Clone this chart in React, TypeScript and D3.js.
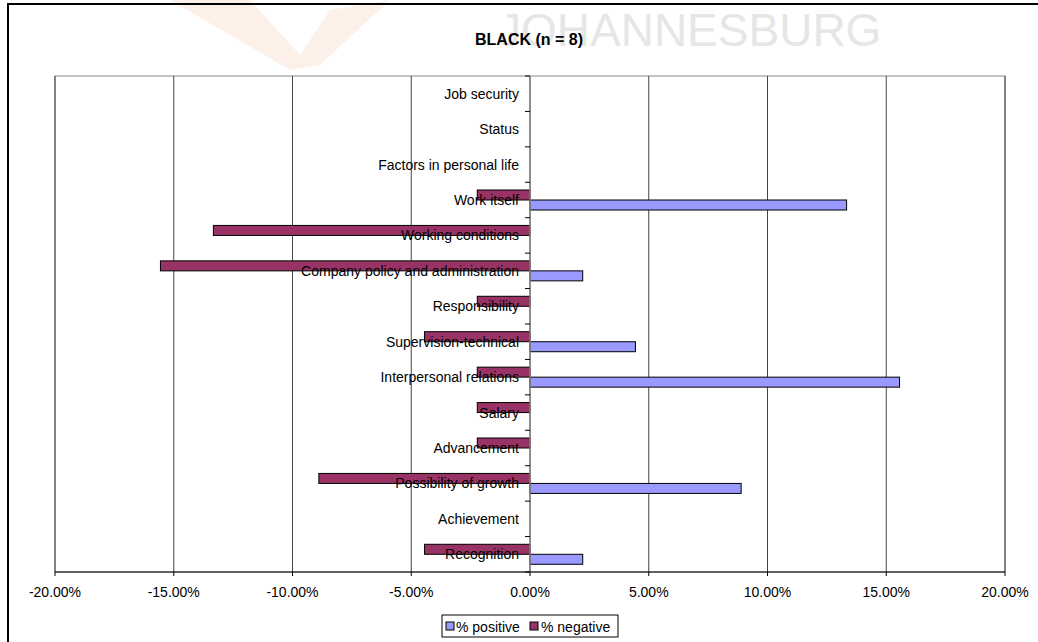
import React from "react";
import * as d3 from "d3";

const categories = [
  "Job security",
  "Status",
  "Factors in personal life",
  "Work itself",
  "Working conditions",
  "Company policy and administration",
  "Responsibility",
  "Supervision-technical",
  "Interpersonal relations",
  "Salary",
  "Advancement",
  "Possibility of growth",
  "Achievement",
  "Recognition",
];
const positive = [0, 0, 0, 0.1333, 0, 0.0222, 0, 0.0444, 0.1556, 0, 0, 0.0889, 0, 0.0222];
const negative = [0, 0, 0, -0.0222, -0.1333, -0.1556, -0.0222, -0.0444, -0.0222, -0.0222, -0.0222, -0.0889, 0, -0.0444];
const xTicks = [-0.2, -0.15, -0.1, -0.05, 0, 0.05, 0.1, 0.15, 0.2];
const title = "BLACK (n = 8)";

const W = 1038, H = 642;
const plot = { left: 55, right: 1005, top: 76, bottom: 572 };
const FONT = "Arial, 'Liberation Sans', sans-serif";
const POS = "#9999FF";
const NEG = "#993366";

export default function App() {
  const x = d3.scaleLinear().domain([-0.2, 0.2]).range([plot.left, plot.right]);
  const y = d3.scaleBand().domain(categories).range([plot.top, plot.bottom]).paddingInner(0).paddingOuter(0);
  const bw = y.bandwidth();
  const barH = 10;
  const x0 = x(0);
  const fmt = d3.formatLocale({ decimal: ".", thousands: ",", grouping: [3], currency: ["", ""], minus: "-" }).format(".2%");
  const boundaries = d3.range(categories.length + 1).map((i) => plot.top + i * bw);

  return (
    <svg width={W} height={H} style={{ position: "absolute", left: 0, top: 0, background: "#fff" }}>
      {/* watermark */}
      <g opacity={0.1}>
        <path d="M170,0 L250,0 L300,55 L330,10 L390,0 L320,65 L290,70 Z" fill="#f07020" />
      </g>
      <text x={498} y={46} fontFamily={FONT} fontSize={46} fill="#e6e6e6">JOHANNESBURG</text>

      {/* outer frame */}
      <rect x={8} y={4} width={1040} height={650} fill="none" stroke="#000" strokeWidth={2} />

      {/* title */}
      <text x={529} y={45} textAnchor="middle" fontFamily={FONT} fontSize={16} fontWeight="bold" fill="#000">{title}</text>

      {/* plot area border */}
      <rect x={plot.left} y={plot.top} width={plot.right - plot.left} height={plot.bottom - plot.top} fill="none" stroke="#888" strokeWidth={1} />

      {/* grid lines */}
      {xTicks.map((t) => (
        <line key={"g" + t} x1={x(t)} x2={x(t)} y1={plot.top} y2={plot.bottom} stroke="#444" strokeWidth={1} />
      ))}

      {/* bars */}
      {categories.map((c, i) => {
        const cy = (y(c) as number) + bw / 2;
        const n = negative[i];
        const p = positive[i];
        return (
          <g key={c}>
            {n !== 0 && (
              <rect x={x(n)} y={cy - barH} width={x0 - x(n)} height={barH} fill={NEG} stroke="#000" strokeWidth={1} />
            )}
            {p !== 0 && (
              <rect x={x0} y={cy} width={x(p) - x0} height={barH} fill={POS} stroke="#000" strokeWidth={1} />
            )}
          </g>
        );
      })}

      {/* zero axis and category ticks */}
      <line x1={x0} x2={x0} y1={plot.top} y2={plot.bottom} stroke="#888" strokeWidth={1.5} />
      {boundaries.map((b, i) => (
        <line key={"t" + i} x1={x0 - 5} x2={x0} y1={b} y2={b} stroke="#000" strokeWidth={1} />
      ))}

      {/* category labels */}
      {categories.map((c) => (
        <text key={"l" + c} x={519} y={(y(c) as number) + bw / 2 + 5} textAnchor="end" fontFamily={FONT} fontSize={14} fill="#000">{c}</text>
      ))}

      {/* x axis */}
      <line x1={plot.left} x2={plot.right} y1={plot.bottom} y2={plot.bottom} stroke="#000" strokeWidth={1} />
      {xTicks.map((t) => (
        <g key={"x" + t}>
          <line x1={x(t)} x2={x(t)} y1={plot.bottom} y2={plot.bottom + 4} stroke="#000" strokeWidth={1} />
          <text x={x(t)} y={597} textAnchor="middle" fontFamily={FONT} fontSize={14} fill="#000">{fmt(t)}</text>
        </g>
      ))}

      {/* legend */}
      <rect x={442} y={615} width={176} height={22} fill="#fff" stroke="#000" strokeWidth={1} />
      <rect x={446} y={622} width={8} height={8} fill={POS} stroke="#000" strokeWidth={1} />
      <text x={456} y={632} fontFamily={FONT} fontSize={14} fill="#000">% positive</text>
      <rect x={530} y={622} width={8} height={8} fill={NEG} stroke="#000" strokeWidth={1} />
      <text x={541} y={632} fontFamily={FONT} fontSize={14} fill="#000">% negative</text>
    </svg>
  );
}
